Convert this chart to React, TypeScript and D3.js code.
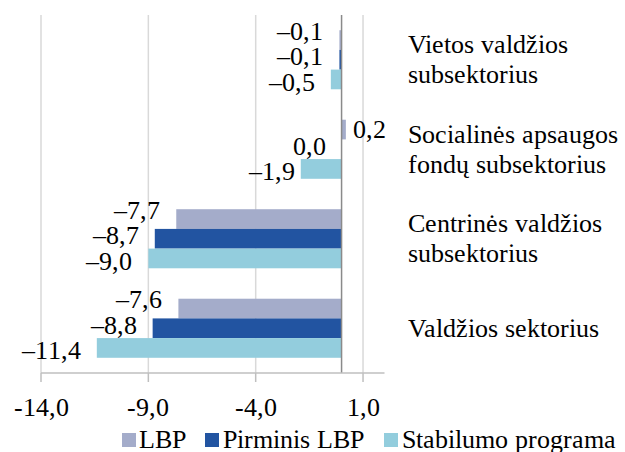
import React from "react";
import { scaleLinear, scaleBand } from "d3";

const categories = [
  "Vietos valdžios subsektorius",
  "Socialinės apsaugos fondų subsektorius",
  "Centrinės valdžios subsektorius",
  "Valdžios sektorius",
];
const categoryLines = [
  ["Vietos valdžios", "subsektorius"],
  ["Socialinės apsaugos", "fondų subsektorius"],
  ["Centrinės valdžios", "subsektorius"],
  ["Valdžios sektorius"],
];
const seriesNames = ["LBP", "Pirminis LBP", "Stabilumo programa"];
const lbp = [-0.1, 0.2, -7.7, -7.6];
const pirminis = [-0.1, 0.0, -8.7, -8.8];
const stabilumo = [-0.5, -1.9, -9.0, -11.4];
const xTicks = [-14, -9, -4, 1];

const colors = ["#a4acca", "#2254a1", "#93cddd"];
const FONT = "'ChartSerif', 'Liberation Serif', 'Times New Roman', Times, serif";
const FS = 26;

const fmt = (v: number) => (v < 0 ? "\u2013" : "") + Math.abs(v).toFixed(1).replace(".", ",");
const fmtTick = (v: number) => v.toFixed(1).replace(".", ",");

const tStyle = { fontFamily: FONT, fontSize: FS };
const css =
  "@font-face{font-family:'ChartSerif';src:local('Liberation Serif'),local('LiberationSerif'),local('Liberation Serif Regular'),local('Times New Roman'),local('DejaVu Serif');}";

export default function App() {
  const W = 625, H = 452;
  const top = 15, bottom = 373;
  const x = scaleLinear().domain([-14, 2]).range([41, 384.5]);
  const y = scaleBand<string>().domain(categories).range([top, bottom]).paddingInner(0.34).paddingOuter(0.17);
  const yInner = scaleBand<string>().domain(seriesNames).range([0, y.bandwidth()]);
  const series = [lbp, pirminis, stabilumo];
  const legendPos = [
    { sx: 122, tx: 139 },
    { sx: 205, tx: 223 },
    { sx: 384, tx: 402 },
  ];

  return (
    <svg width={W} height={H} style={{ position: "fixed", left: 0, top: 0, display: "block", background: "#fff" }}>
      <style>{css}</style>
      {xTicks.map((t) => (
        <line key={"g" + t} x1={x(t)} x2={x(t)} y1={top} y2={bottom} stroke="#d9d9d9" strokeWidth={1.5} />
      ))}
      {categories.map((c, ci) =>
        series.map((s, si) => {
          const v = s[ci];
          const y0 = (y(c) as number) + (yInner(seriesNames[si]) as number);
          const x0 = Math.min(x(0), x(v));
          const w = Math.abs(x(v) - x(0));
          return <rect key={c + si} x={x0} y={y0} width={w} height={yInner.bandwidth()} fill={colors[si]} />;
        })
      )}
      <line x1={x(0)} x2={x(0)} y1={top} y2={bottom} stroke="#8a8a8a" strokeWidth={1.5} />
      <line x1={x(-14)} x2={x(2)} y1={bottom} y2={bottom} stroke="#bfbfbf" strokeWidth={1.5} />
      {xTicks.map((t) => (
        <g key={"t" + t}>
          <line x1={x(t)} x2={x(t)} y1={bottom} y2={bottom + 9} stroke="#bfbfbf" strokeWidth={1.5} />
          <text x={x(t)} y={416} textAnchor="middle" style={tStyle} fill="#000">
            {fmtTick(t)}
          </text>
        </g>
      ))}
      {categories.map((c, ci) =>
        series.map((s, si) => {
          const v = s[ci];
          const gc = (y(c) as number) + y.bandwidth() / 2;
          let ly = gc + (si - 1) * 25.5 - 3;
          if (v > 0) ly = (y(c) as number) + (yInner(seriesNames[si]) as number) + yInner.bandwidth() / 2;
          let gap = 16;
          if (ci === 1 && si === 2) gap = 6;
          const lx = v > 0 ? x(v) + 7 : Math.min(x(v), x(0)) - gap;
          return (
            <text key={"l" + c + si} x={lx} y={ly} dy="0.33em" textAnchor={v > 0 ? "start" : "end"} style={tStyle} fill="#000">
              {fmt(v)}
            </text>
          );
        })
      )}
      {categories.map((c, ci) => {
        const lines = categoryLines[ci];
        const gc = (y(c) as number) + y.bandwidth() / 2;
        const lh = 30;
        return (
          <text key={"c" + c} x={408} style={tStyle} fill="#000">
            {lines.map((ln, li) => (
              <tspan key={li} x={408} y={gc + (li - (lines.length - 1) / 2) * lh} dy="0.33em">
                {ln}
              </tspan>
            ))}
          </text>
        );
      })}
      {seriesNames.map((n, i) => (
        <g key={"leg" + n}>
          <rect x={legendPos[i].sx} y={433} width={14} height={14} fill={colors[i]} />
          <text x={legendPos[i].tx} y={448} style={tStyle} fill="#000">{n}</text>
        </g>
      ))}
    </svg>
  );
}
